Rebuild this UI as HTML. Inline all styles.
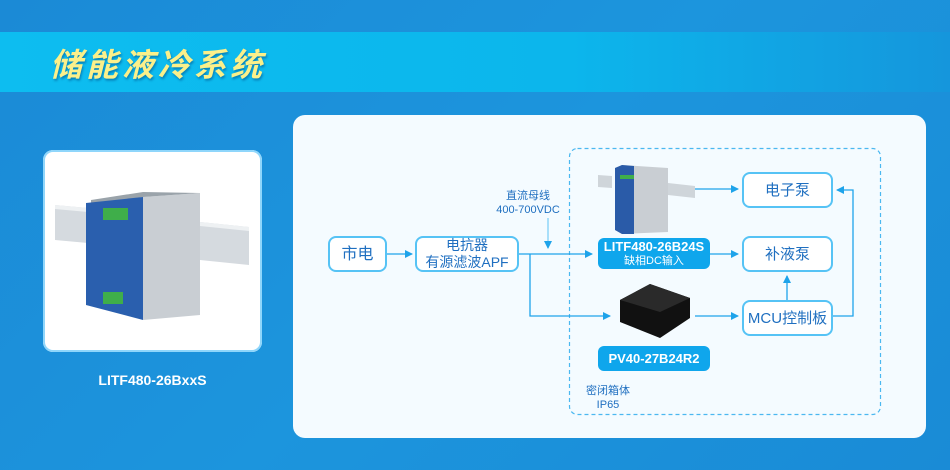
<!DOCTYPE html>
<html><head><meta charset="utf-8"><style>
body{margin:0;width:950px;height:470px;overflow:hidden;background:linear-gradient(135deg,#1b8ad6,#1c95dd 50%,#1a8bd6);font-family:"Liberation Sans","Noto Sans CJK SC",sans-serif;position:relative}
.band{position:absolute;left:0;top:32px;width:950px;height:60px;background:linear-gradient(90deg,#0dbdf0,#0cb6ec 60%,#1596dc)}
.title{position:absolute;left:50px;top:40px;font-size:32px;font-weight:bold;font-style:italic;color:#fbf08a;letter-spacing:4px;text-shadow:1px 2px 2px rgba(0,60,120,.45)}
.lp{position:absolute;left:43px;top:150px;width:219px;height:202px;background:#fff;border-radius:10px;box-shadow:0 0 0 2px #8fd6fb inset}
.cap{position:absolute;left:43px;top:372px;width:219px;text-align:center;color:#fff;font-weight:bold;font-size:14px}
.panel{position:absolute;left:293px;top:115px;width:633px;height:323px;background:#f4fbff;border-radius:12px}
.n{position:absolute;box-sizing:border-box;border:2px solid #56c3f5;border-radius:8px;background:#fff;color:#1f6fc0;text-align:center;display:flex;align-items:center;justify-content:center;font-size:15px;line-height:17px}
.b{position:absolute;box-sizing:border-box;background:#0fa6ec;color:#fff;border-radius:6px;text-align:center;font-weight:bold;font-size:13px;display:flex;flex-direction:column;align-items:center;justify-content:center;line-height:15px}
.t{position:absolute;color:#1f6fc0;font-size:11px;text-align:center;line-height:14px}
</style></head><body>
<div class="band"></div>
<div class="title">储能液冷系统</div>
<div class="lp">
<svg width="219" height="202">
<polygon points="12,55 45,58 45,93 12,90" fill="#d5dadf"/>
<polygon points="157,72 206,77 206,115 157,110" fill="#d5dadf"/>
<polygon points="12,55 45,58 45,62 12,59" fill="#eef1f3"/>
<polygon points="157,72 206,77 206,81 157,76" fill="#eef1f3"/>
<polygon points="48,55 100,47 157,43 157,165 100,170" fill="#c9ced3"/>
<polygon points="48,55 100,47 157,43 100,42 48,50" fill="#9aa3aa"/>
<polygon points="43,53 100,47 100,170 43,155" fill="#2a5fae"/>
<rect x="60" y="58" width="25" height="12" fill="#3fae4a"/>
<rect x="60" y="142" width="20" height="12" fill="#3fae4a"/>
</svg></div>
<div class="cap">LITF480-26BxxS</div>
<div class="panel"></div>
<svg style="position:absolute;left:0;top:0" width="950" height="470">
<defs><marker id="a" markerWidth="8" markerHeight="8" refX="7" refY="4" orient="auto" markerUnits="userSpaceOnUse"><path d="M0,0 L8,4 L0,8z" fill="#1ea3ea"/></marker></defs>
<rect x="569.5" y="148.5" width="311" height="266" rx="8" fill="none" stroke="#4bb8f0" stroke-width="1.2" stroke-dasharray="4,3"/>
<g stroke="#1ea3ea" stroke-width="1.3" fill="none">
<path d="M387,254 H412" marker-end="url(#a)"/>
<path d="M519,254 H592" marker-end="url(#a)"/>
<path d="M530,254 V316 H610" marker-end="url(#a)"/>
<path d="M548,218 V248" stroke="#7fd0f7" marker-end="url(#a)"/>
<path d="M695,189 H738" marker-end="url(#a)"/>
<path d="M710,254 H738" marker-end="url(#a)"/>
<path d="M695,316 H738" marker-end="url(#a)"/>
<path d="M787,300 V276" marker-end="url(#a)"/>
<path d="M833,316 H853 V190 H837" marker-end="url(#a)"/>
</g>
<polygon points="598,175 612,176 612,188 598,187" fill="#cfd5da"/>
<polygon points="668,183 695,186 695,198 668,195" fill="#cfd5da"/>
<polygon points="615,168 622,165 668,168 668,232 622,234 615,230" fill="#c9ced3"/>
<polygon points="615,168 622,165 634,166 634,234 622,234 615,230" fill="#2a5ba8"/>
<rect x="620" y="175" width="14" height="4" fill="#3fae4a"/>
<polygon points="620,300 650,284 690,298 690,318 660,338 620,322" fill="#111"/>
<polygon points="620,300 650,284 690,298 660,312" fill="#2a2a2a"/>
</svg>
<div class="n" style="left:328px;top:236px;width:59px;height:36px;font-size:16px">市电</div>
<div class="n" style="left:415px;top:236px;width:104px;height:36px;font-size:14px">电抗器<br>有源滤波APF</div>
<div class="t" style="left:488px;top:189px;width:80px">直流母线<br>400-700VDC</div>
<div class="b" style="left:598px;top:238px;width:112px;height:31px"><span>LITF480-26B24S</span><span style="font-weight:normal;font-size:11px">缺相DC输入</span></div>
<div class="b" style="left:598px;top:346px;width:112px;height:25px">PV40-27B24R2</div>
<div class="n" style="left:742px;top:172px;width:91px;height:36px">电子泵</div>
<div class="n" style="left:742px;top:236px;width:91px;height:36px">补液泵</div>
<div class="n" style="left:742px;top:300px;width:91px;height:36px">MCU控制板</div>
<div class="t" style="left:578px;top:384px;width:60px">密闭箱体<br>IP65</div>
</body></html>
